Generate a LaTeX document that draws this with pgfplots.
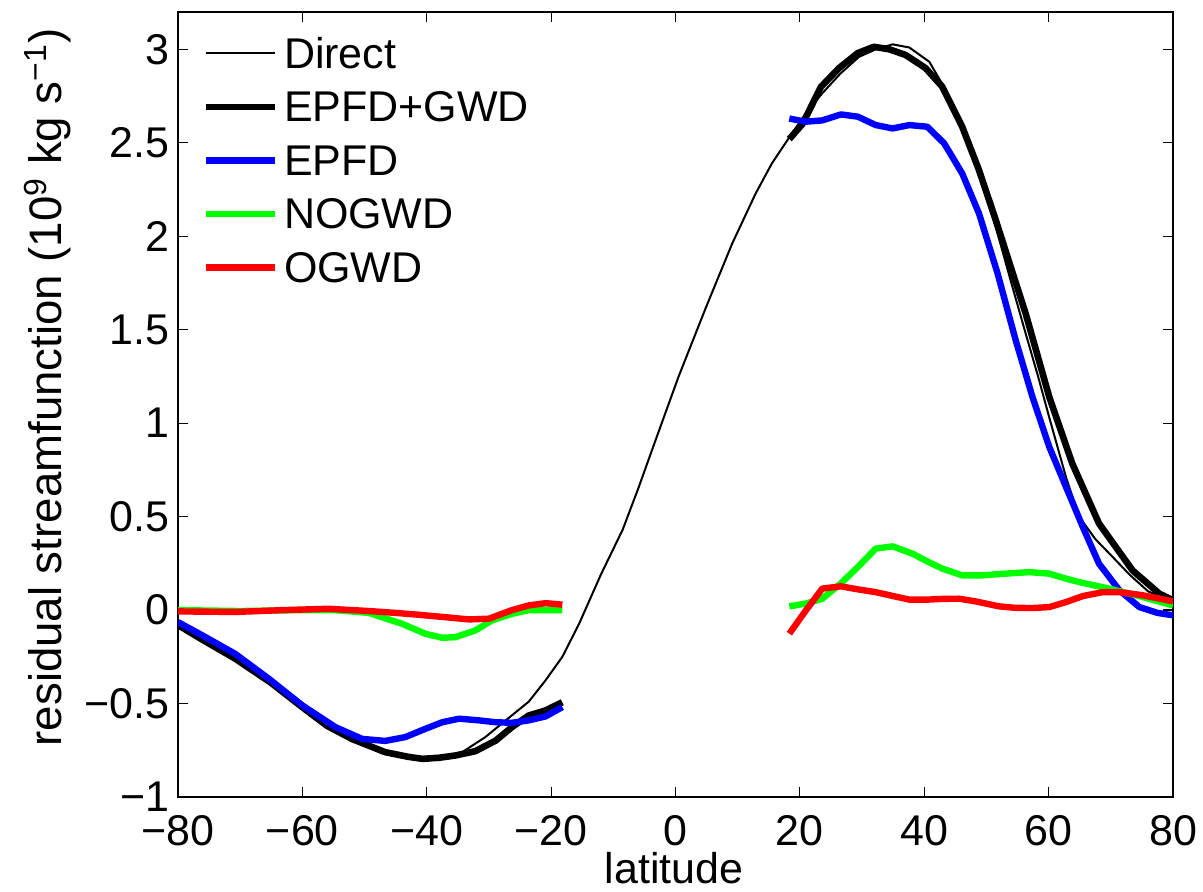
\documentclass[border=0pt]{standalone}
\usepackage{fontspec}
\setmainfont{Liberation Sans}
\usepackage{pgfplots}
\usepackage{pgfplotstable}
\pgfplotsset{compat=1.18}
\newcommand{\fs}{\fontsize{21.5}{25}\selectfont}
\newcommand{\fsy}{\fontsize{22.8}{26}\selectfont}

\pgfplotstableread{
x y
-80 -0.08
-76 -0.16
-72 -0.24
-68 -0.33
-64 -0.42
-60 -0.515
-56 -0.61
-52 -0.685
-48 -0.745
-44 -0.785
-40.7 -0.796
-37.5 -0.785
-34.3 -0.76
-30.6 -0.68
-27.3 -0.59
-23.6 -0.49
-20.9 -0.376
-18.2 -0.25
-15.5 -0.073
-12 0.19
-8.5 0.43
-6 0.65
-3.2 0.91
0.5 1.25
4.9 1.62
9.1 1.96
12.9 2.23
15.5 2.39
18.3 2.53
21 2.66
23.6 2.765
26.5 2.87
29.5 2.96
32.2 3.0
34.9 3.027
37.6 3.01
40.8 2.934
43.5 2.78
46.1 2.58
48.8 2.34
51.5 2.05
54 1.75
56.3 1.48
58.3 1.25
60.1 1.03
62.8 0.71
64.9 0.50
67.5 0.38
70.3 0.284
73 0.19
76 0.10
80 0.045
}\direct

\pgfplotstableread{
x y
-80 -0.08
-76 -0.16
-70.8 -0.26
-65 -0.39
-60 -0.52
-56 -0.62
-52 -0.69
-46.7 -0.76
-43 -0.785
-40.7 -0.796
-38 -0.79
-35.4 -0.778
-32.2 -0.755
-28.9 -0.698
-26.3 -0.626
-23.6 -0.564
-20.9 -0.537
-18.2 -0.493
}\epfdgwdL

\pgfplotstableread{
x y
18.3 2.52
20.4 2.60
23.4 2.80
26.3 2.90
29.3 2.98
31.9 3.014
34.4 3.0
37.0 2.97
40.2 2.90
42.9 2.80
46.1 2.586
48.8 2.354
51.5 2.086
53.9 1.836
56.3 1.587
60.1 1.14
63.8 0.784
68.1 0.463
73.5 0.212
77.8 0.088
80 0.052
}\epfdgwdR

\pgfplotstableread{
x y
-80 -0.064
-76.1 -0.135
-70.8 -0.234
-65.4 -0.367
-60 -0.51
-54.7 -0.626
-50.4 -0.689
-46.7 -0.70
-43.5 -0.68
-40.2 -0.635
-37.5 -0.60
-34.8 -0.581
-31.6 -0.59
-28.9 -0.60
-26.3 -0.603
-23.6 -0.59
-20.9 -0.569
-18.2 -0.519
}\epfdL

\pgfplotstableread{
x y
18.3 2.63
20.9 2.613
23.6 2.62
26.6 2.652
29.3 2.64
32.2 2.595
34.9 2.577
37.6 2.595
40.5 2.586
43.2 2.497
46.1 2.336
48.8 2.122
51.8 1.80
54.7 1.444
57.4 1.14
60.1 0.873
62.8 0.658
65.5 0.444
68.1 0.248
71.4 0.105
74.6 0.016
77.5 -0.015
80 -0.028
}\epfdR

\pgfplotstableread{
x y
-80 0
-70 -0.005
-60 0.0
-55 0.0
-49.3 -0.015
-44 -0.073
-40.2 -0.127
-37.5 -0.148
-35.4 -0.145
-32.2 -0.109
-29.5 -0.055
-26.3 -0.02
-23.6 0
-18.2 0
}\nogwdL

\pgfplotstableread{
x y
18.3 0.02
21 0.035
23.6 0.061
26.5 0.14
29.3 0.23
32.2 0.329
34.9 0.341
38.1 0.302
40.5 0.26
42.9 0.222
46.1 0.186
49.4 0.186
53 0.195
56.9 0.203
60.1 0.195
62.8 0.168
64.9 0.150
69.7 0.115
74 0.08
80 0.025
}\nogwdR

\pgfplotstableread{
x y
-80 -0.007
-70.8 -0.01
-63 0.0
-55.8 0.007
-49.3 -0.005
-45 -0.015
-41.3 -0.025
-37 -0.038
-33.2 -0.05
-30 -0.046
-26.3 0
-23.6 0.025
-20.9 0.037
-18.2 0.029
}\ogwdL

\pgfplotstableread{
x y
18.3 -0.126
21 0.0
23.6 0.115
26.6 0.127
29.5 0.11
32.2 0.096
35 0.075
37.6 0.056
40.5 0.056
43 0.06
45.6 0.061
48.5 0.045
52.0 0.02
54.7 0.012
57.4 0.011
60.1 0.016
62.8 0.043
65.5 0.075
68.7 0.096
71.4 0.096
75 0.08
80 0.047
}\ogwdR

\begin{document}
\begin{tikzpicture}
\begin{axis}[
  at={(0,0)}, anchor=south west,
  scale only axis, width=497.5pt, height=392.5pt,
  xmin=-80, xmax=80, ymin=-1, ymax=3.2,
  xtick={-80,-60,-40,-20,0,20,40,60,80},
  xticklabels={−80,−60,−40,−20,0,20,40,60,80},
  ytick={-1,-0.5,0,0.5,1,1.5,2,2.5,3},
  yticklabels={−1,−0.5,0,0.5,1,1.5,2,2.5,3},
  tick align=inside, major tick length=5pt, tick pos=both,
  axis line style={line width=1pt},
  every tick/.style={black, line width=0.6pt},
  tick label style={font=\fs},
  xticklabel style={inner sep=0pt, yshift=-9pt},
  yticklabel style={inner sep=0pt, xshift=-4pt},
  xlabel={latitude},
  xlabel style={at={(axis description cs:0.4985,-0.1096)}, anchor=base, font=\fs},
  ylabel={residual streamfunction (10\textsuperscript{9} kg s\textsuperscript{−1})},
  ylabel style={at={(axis description cs:-0.1166,0.5217)}, anchor=base, font=\fsy},
  legend style={draw=none, fill=none, at={(axis description cs:0,1)}, anchor=north west,
    xshift=12pt, yshift=-11pt, inner sep=0pt, row sep=7.75pt, column sep=3pt,
    nodes={inner sep=0pt, text height=17pt, text depth=2pt, anchor=west}, font=\fs},
  legend cell align=left,
  legend image code/.code={\draw[#1] (0pt,0pt) -- (34.5pt,0pt);},
  every axis plot/.append style={line join=round},
]
\addplot[black, line width=1pt] table {\direct};
\addlegendentry{Direct}
\addplot[black, line width=3.3pt] table {\epfdgwdL};
\addlegendentry{EPFD+GWD}
\addplot[blue, line width=3.2pt] table {\epfdL};
\addlegendentry{EPFD}
\addplot[green, line width=3.2pt] table {\nogwdL};
\addlegendentry{NOGWD}
\addplot[red, line width=3.2pt] table {\ogwdL};
\addlegendentry{OGWD}
\addplot[black, line width=3.3pt, forget plot] table {\epfdgwdR};
\addplot[blue, line width=3.2pt, forget plot] table {\epfdR};
\addplot[green, line width=3.2pt, forget plot] table {\nogwdR};
\addplot[red, line width=3.2pt, forget plot] table {\ogwdR};
\end{axis}
\pgfresetboundingbox
\path[use as bounding box] (-89pt,-47.5pt) rectangle (512.5pt,398.5pt);
\end{tikzpicture}
\end{document}
